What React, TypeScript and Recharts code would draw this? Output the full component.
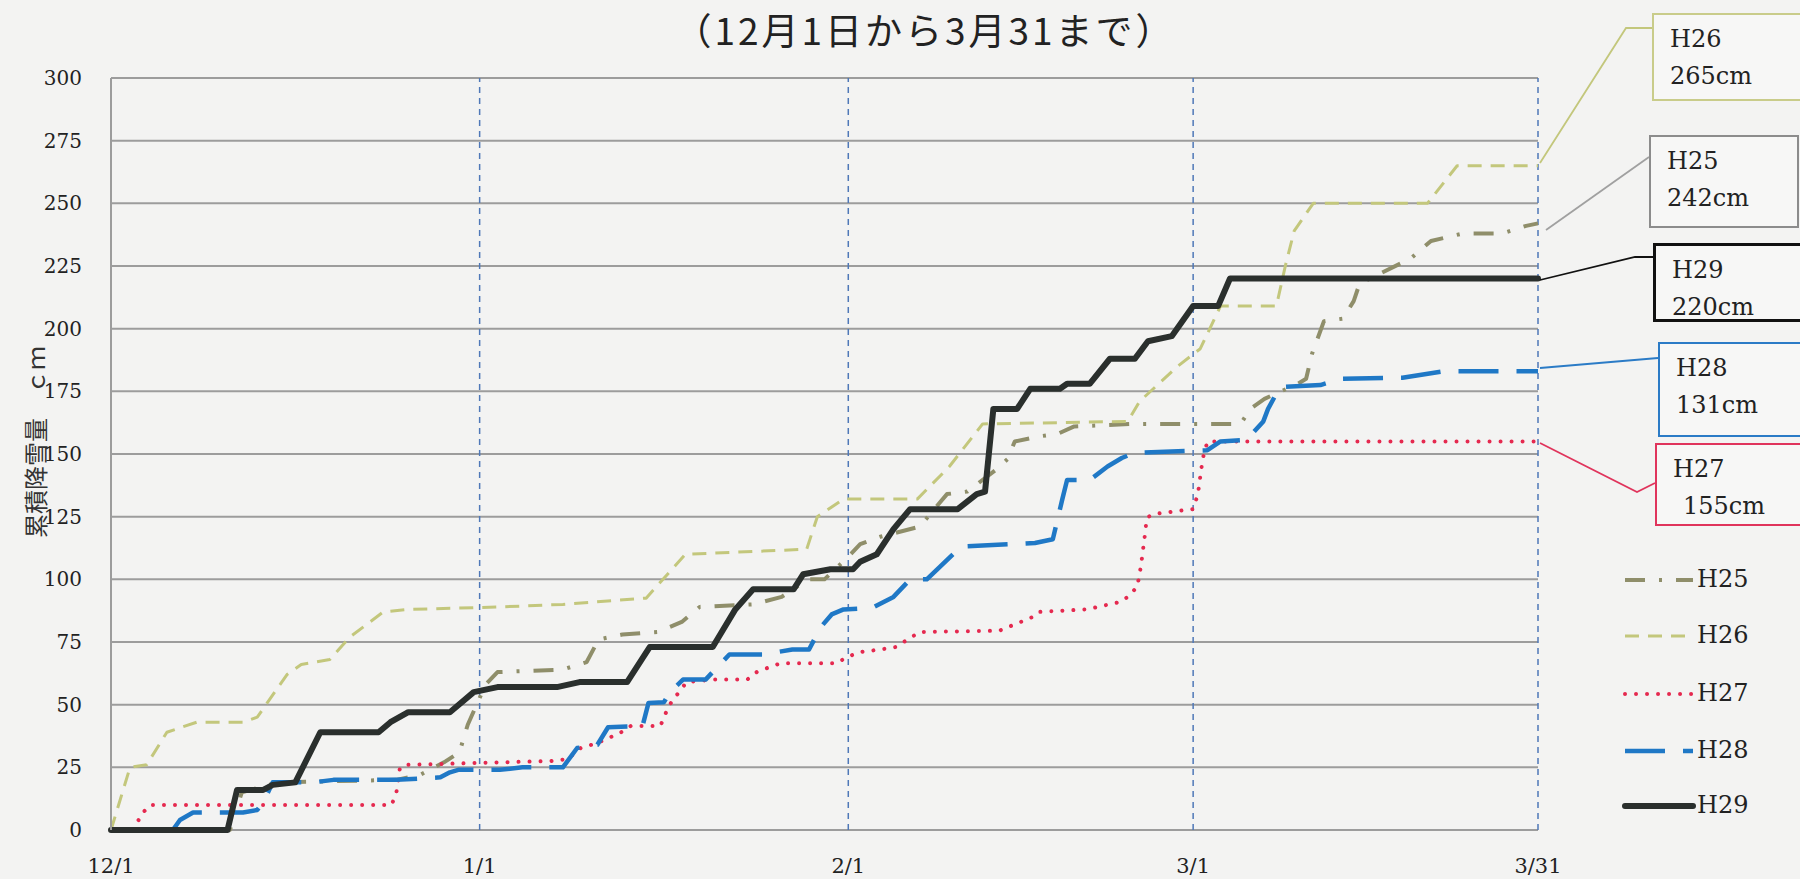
import React from 'react'
import { LineChart, Line, XAxis, YAxis, CartesianGrid, ReferenceLine } from 'recharts'

// x = days since 12/1, y = cumulative snowfall (cm)
const tickDays = [0, 31, 62, 91, 120]
const tickLabels = ['12/1', '1/1', '2/1', '3/1', '3/31']
const yTicks = [0, 25, 50, 75, 100, 125, 150, 175, 200, 225, 250, 275, 300]
const monthLines = [31, 62, 91, 120]

const seriesNames = ['H25', 'H26', 'H27', 'H28', 'H29']
const calloutTotals = ['242cm', '265cm', '155cm', '131cm', '220cm']

const h25: [number, number][] = [
  [0, 0], [10, 0], [11, 15], [14, 19], [24, 20], [26, 22], [28, 27], [29.3, 31], [30, 42],
  [31.5, 58], [32.5, 63], [38, 64], [40, 67], [41, 76], [43, 78], [46, 79], [48, 83],
  [49.5, 89], [54, 90], [56.4, 93], [58.6, 100], [60, 100], [62, 109], [63, 114], [64.7, 117],
  [68, 121], [70.3, 134], [72, 135], [74.5, 144], [75.4, 148], [76, 155], [78, 157],
  [79.6, 158], [81, 161], [86, 162], [95, 162], [95.8, 168], [97, 172], [99.8, 178],
  [100.5, 180], [101, 190], [102, 203], [103.6, 204], [104.5, 211], [105, 218],
  [109.3, 228], [111, 235], [113.7, 238], [117, 238], [119, 241], [120, 242],
]

const h26: [number, number][] = [
  [0, 0], [1.6, 25], [3, 26], [4.7, 39], [7.2, 43], [11.1, 43], [12.3, 45], [14.8, 62],
  [16, 66], [18.4, 68], [20.1, 77], [22.9, 87], [25, 88], [32.7, 89], [38, 90], [45, 92.5],
  [48.3, 110], [58.5, 112], [59.4, 125], [61.6, 132], [67.8, 132], [70.5, 145], [73.3, 162],
  [85.5, 163], [86.5, 171], [89.7, 185], [91.6, 192], [93.3, 209], [98, 209], [98.8, 226],
  [99.5, 239], [101.1, 250], [110.7, 250], [113.2, 265], [120, 265],
]

const h27: [number, number][] = [
  [0, 0], [1.8, 0], [2.2, 3], [2.7, 7], [3.3, 10], [23.6, 10], [24, 15], [24.3, 25], [25, 26],
  [32.7, 27], [37, 27.5], [38.4, 28.3], [39.5, 32.7], [40.9, 34.7], [42.8, 38.7], [43.7, 41.5],
  [46.2, 41.5], [46.9, 49.5], [47.6, 54], [48.4, 59], [50.6, 60], [53.5, 60], [54.3, 63],
  [55.4, 65], [56.3, 66.5], [61, 66.5], [61.9, 69], [63, 71], [64.7, 72], [66, 73], [68, 79],
  [74.7, 79.5], [76.5, 83], [77.5, 85], [78, 87], [82, 88], [83, 89], [84.9, 91], [85.5, 93],
  [86.3, 97], [86.6, 105], [86.9, 116], [87.1, 124.5], [87.6, 126], [91, 128], [91.4, 134],
  [91.8, 148], [92.2, 155], [120, 155],
]

const h28: [number, number][] = [
  [0, 0], [5.2, 0], [5.8, 4], [6.9, 7], [8.1, 7], [11.1, 7], [12.3, 8], [12.8, 11], [13.6, 19],
  [17, 19], [18.7, 20], [24, 20], [27.7, 21], [28.5, 23], [29.2, 24], [32.7, 24], [34.6, 25],
  [38, 25], [39.2, 32.7], [40.9, 34], [41.8, 41], [44.7, 41.5], [45.2, 50.7], [46.5, 51],
  [47, 55], [48.1, 60], [50, 60], [52, 70], [54.8, 70], [57.3, 72], [58.7, 72], [59.7, 81],
  [60.6, 86], [61.6, 88], [64, 88.6], [65.8, 93], [67.2, 100], [68.6, 100], [69.7, 105],
  [70.8, 110], [71.4, 113], [77.7, 114.5], [79.2, 116], [80, 132], [80.4, 139.6], [82.3, 139.6],
  [83.8, 145], [85, 148.4], [86, 150.4], [92.2, 151.5], [93.3, 155], [95.5, 155.6], [96.9, 163],
  [97.3, 168], [98.3, 176.7], [101.7, 177.5], [103.4, 180], [108.6, 180.4], [112, 183], [120, 183],
]

const h29: [number, number][] = [
  [0, 0], [9.8, 0], [10.6, 16], [12.8, 16], [13.6, 18], [15.5, 19], [17.6, 39], [22.5, 39],
  [23.5, 43], [25, 47], [28.5, 47], [30.5, 55], [32.5, 57], [37.5, 57], [39.4, 59], [43.4, 59],
  [45.3, 73], [50.6, 73], [52.5, 88], [54, 96], [57.4, 96], [58.2, 102], [60.5, 104],
  [62.4, 104], [63, 107], [64.4, 110], [65.8, 120], [67.2, 128], [71.2, 128], [72.8, 134],
  [73.5, 135], [74.2, 168], [76.2, 168], [77.3, 176], [79.8, 176], [80.4, 178], [82.3, 178],
  [84, 188], [86.1, 188], [87.2, 195], [89.2, 197], [91, 209], [93.1, 209], [94.1, 220], [120, 220],
]

const allSeries = [h25, h26, h27, h28, h29]

const styles = [
  { color: '#8f8e6a', width: 4, dash: '20 14 3 14', cap: 'butt' },
  { color: '#c3c77c', width: 3, dash: '14 9', cap: 'butt' },
  { color: '#e5294f', width: 4, dash: '0.01 11', cap: 'round' },
  { color: '#1f78c6', width: 4.5, dash: '40 18', cap: 'butt' },
  { color: '#2a2f2d', width: 6, dash: undefined, cap: 'round' },
]

// label boxes on the right (page px) and their leader lines
const callouts = [
  { i: 1, top: 13, left: 1652, h: 88, border: '#c9cc8a', bw: 2, lead: '1540,163 1626,28 1652,28', lc: '#c3c77c' },
  { i: 0, top: 135, left: 1649, h: 93, border: '#8c8c8c', bw: 2, lead: '1546,230 1649,157', lc: '#a0a0a0' },
  { i: 4, top: 243, left: 1653, h: 79, border: '#111', bw: 3, lead: '1540,280 1635,257 1653,257', lc: '#111' },
  { i: 3, top: 342, left: 1658, h: 95, border: '#2b7bc6', bw: 2, lead: '1540,368 1658,358', lc: '#2b7bc6' },
  { i: 2, top: 443, left: 1655, h: 83, border: '#e0345c', bw: 2, lead: '1540,443 1637,492 1655,483', lc: '#e0345c' },
]

const legendTops = [580, 636, 694, 751, 806]

const serif = '"DejaVu Serif", serif'

export default function App() {
  return (
    <div style={{ position: 'absolute', left: 0, top: 0, width: 1800, height: 879, background: '#f3f3f2', overflow: 'hidden' }}>
      <div style={{ position: 'absolute', left: 0, top: 2, width: 1850, textAlign: 'center', fontFamily: '"Noto Sans CJK JP", sans-serif', fontSize: 37, letterSpacing: 3, color: '#222' }}>
        （12月1日から3月31まで）
      </div>
      <div style={{ position: 'absolute', left: 34, top: 442, transform: 'translate(-50%, -50%) rotate(-90deg)', whiteSpace: 'nowrap', fontFamily: '"Noto Sans CJK JP", sans-serif', fontSize: 24, color: '#333' }}>
        累積降雪量　ｃｍ
      </div>

      <div style={{ position: 'absolute', left: 0, top: 0 }}>
        <LineChart width={1800} height={879} margin={{ top: 78, right: 262, bottom: 19, left: 11 }}>
          <CartesianGrid horizontal vertical={false} stroke="#9c9c9c" strokeWidth={2} />
          <XAxis
            type="number"
            dataKey="d"
            domain={[0, 120]}
            ticks={tickDays}
            tickFormatter={(v: number) => tickLabels[tickDays.indexOf(v)] ?? ''}
            axisLine={false}
            tickLine={false}
            tickMargin={22}
            height={30}
            tick={{ fill: '#222', fontSize: 21, fontFamily: serif }}
          />
          <YAxis
            type="number"
            domain={[0, 300]}
            ticks={yTicks}
            width={100}
            axisLine={{ stroke: '#9c9c9c', strokeWidth: 2 }}
            tickLine={false}
            tickMargin={23}
            tick={{ fill: '#222', fontSize: 20, fontFamily: serif }}
          />
          {monthLines.map((d) => (
            <ReferenceLine key={d} x={d} stroke="#4f78b8" strokeWidth={1.5} strokeDasharray="6 5" />
          ))}
          {allSeries.map((s, i) => (
            <Line
              key={seriesNames[i]}
              data={s.map(([d, v]) => ({ d, v }))}
              dataKey="v"
              name={seriesNames[i]}
              type="linear"
              stroke={styles[i].color}
              strokeWidth={styles[i].width}
              strokeDasharray={styles[i].dash}
              strokeLinecap={styles[i].cap as any}
              strokeLinejoin="round"
              dot={false}
              activeDot={false}
              isAnimationActive={false}
            />
          ))}
        </LineChart>
      </div>

      <svg width={1800} height={879} style={{ position: 'absolute', left: 0, top: 0, pointerEvents: 'none' }}>
        {callouts.map((c) => (
          <polyline key={c.i} points={c.lead} fill="none" stroke={c.lc} strokeWidth={1.8} />
        ))}
        {seriesNames.map((n, i) => (
          <line
            key={n}
            x1={1625}
            x2={1693}
            y1={legendTops[i]}
            y2={legendTops[i]}
            stroke={styles[i].color}
            strokeWidth={styles[i].width}
            strokeDasharray={styles[i].dash}
            strokeLinecap={styles[i].cap as any}
          />
        ))}
      </svg>

      {callouts.map((c) => (
        <div
          key={c.i}
          style={{
            position: 'absolute', left: c.left, top: c.top, width: 150, height: c.h, boxSizing: 'border-box',
            border: `${c.bw}px solid ${c.border}`, background: '#f7f7f6', padding: '6px 0 0 16px',
            fontFamily: serif, fontSize: 24, lineHeight: '37px', color: '#222',
          }}
        >
          <div>{seriesNames[c.i]}</div>
          <div style={{ marginLeft: c.i === 2 ? 10 : 0 }}>{calloutTotals[c.i]}</div>
        </div>
      ))}

      {seriesNames.map((n, i) => (
        <div key={n} style={{ position: 'absolute', left: 1697, top: legendTops[i] - 16, fontFamily: serif, fontSize: 24, lineHeight: '30px', color: '#222' }}>
          {n}
        </div>
      ))}
    </div>
  )
}
